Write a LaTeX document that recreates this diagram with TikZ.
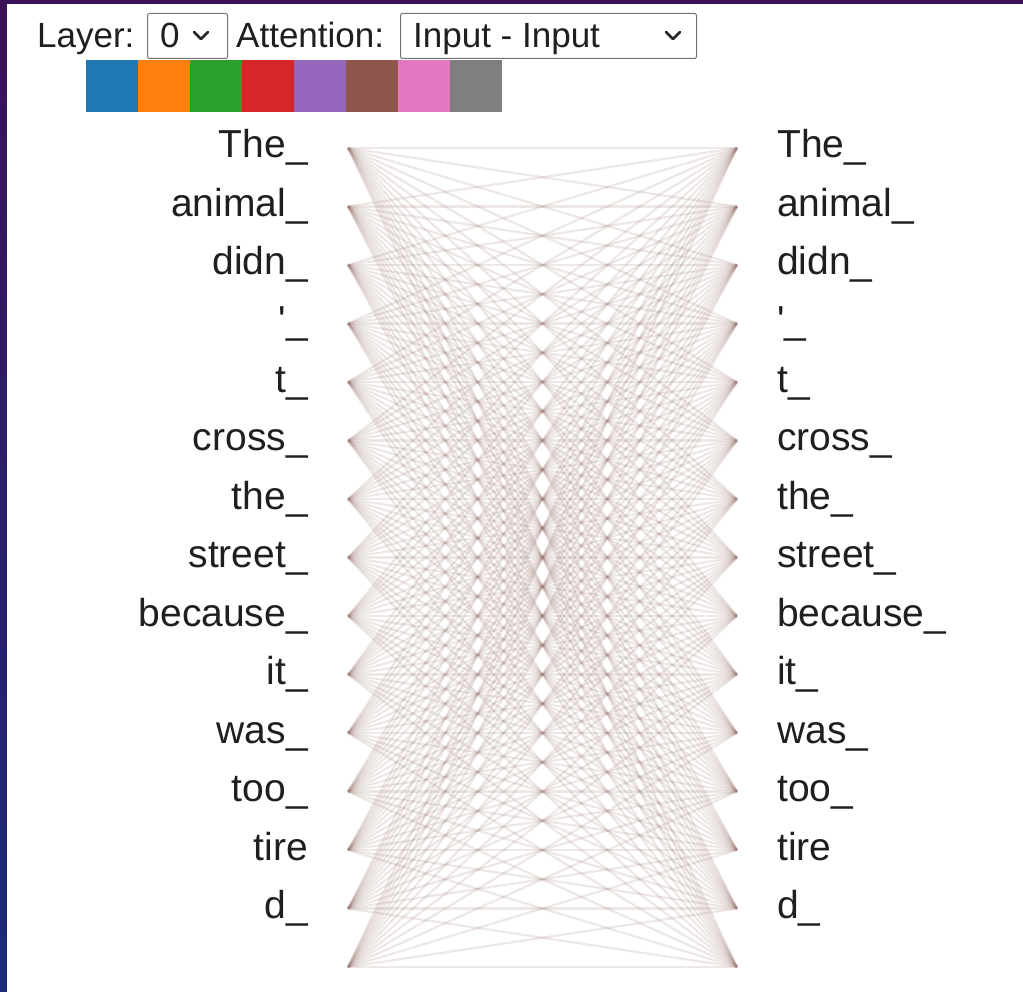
\documentclass[tikz,border=0pt]{standalone}
\usepackage{fontspec}
\setmainfont{Liberation Sans}
\usepackage{xcolor}

\definecolor{bgpurple}{HTML}{3C1257}
\definecolor{bgblue}{HTML}{1B2B78}
\definecolor{hblue}{HTML}{1F77B4}
\definecolor{horange}{HTML}{FF7F0E}
\definecolor{hgreen}{HTML}{2CA02C}
\definecolor{hred}{HTML}{D62728}
\definecolor{hpurple}{HTML}{9467BD}
\definecolor{hbrown}{HTML}{8C564B}
\definecolor{hpink}{HTML}{E377C2}
\definecolor{hgray}{HTML}{7F7F7F}
\definecolor{attn}{HTML}{9A766E}

\begin{document}
\begin{tikzpicture}[x=1pt,y=-1pt,
  ui/.style={font=\fontsize{35}{38}\selectfont,text=black!88,inner sep=0pt},
  tok/.style={font=\fontsize{39}{42}\selectfont,text=black!88,inner sep=0pt},
  selbox/.style={draw=black!55,line width=1pt,rounded corners=2pt,inner sep=0pt,anchor=north west},
  chev/.style={line width=2.6pt,line cap=round,line join=round,black!85},
  att/.style={draw=attn,draw opacity=0.17,line width=2.2pt}]
\useasboundingbox (0,0) rectangle (1023,992);
\shade[top color=bgpurple,bottom color=bgblue] (0,0) rectangle (1023,992);
\fill[white] (7,4) rectangle (1023,992);

\node[ui,anchor=base west] (layer) at (37,48) {Layer:};
\node[selbox,minimum width=80,minimum height=45] (layerbox) at (147,13) {};
\node[ui,anchor=base west] (layerval) at (160,48) {0};
\draw[chev] (194,32) -- (201,39) -- (208,32);
\node[ui,anchor=base west] (attention) at (236,48) {Attention:};
\node[selbox,minimum width=296,minimum height=45] (attbox) at (400,13) {};
\node[ui,anchor=base west] (attval) at (413,48) {Input - Input};
\draw[chev] (666,32) -- (673,39) -- (680,32);

\fill[hblue] (86,60) rectangle (138,112);
\fill[horange] (138,60) rectangle (190,112);
\fill[hgreen] (190,60) rectangle (242,112);
\fill[hred] (242,60) rectangle (294,112);
\fill[hpurple] (294,60) rectangle (346,112);
\fill[hbrown] (346,60) rectangle (398,112);
\fill[hpink] (398,60) rectangle (450,112);
\fill[hgray] (450,60) rectangle (502,112);

\foreach \i in {0,...,14} {
  \coordinate (a\i) at (348,148+58.5*\i);
  \coordinate (b\i) at (737,148+58.5*\i);
}
\foreach \w [count=\i from 0] in {The\_,animal\_,didn\_,\textquotesingle\_,t\_,cross\_,the\_,street\_,because\_,it\_,was\_,too\_,tire,d\_} {
  \node[tok,anchor=base east] (l\i) at (308,158+58.5*\i) {\w};
  \node[tok,anchor=base west] (r\i) at (777,158+58.5*\i) {\w};
}
\foreach \i in {0,...,14}
  \foreach \j in {0,...,14}
    \draw[att] (a\i) -- (b\j);
\end{tikzpicture}
\end{document}
